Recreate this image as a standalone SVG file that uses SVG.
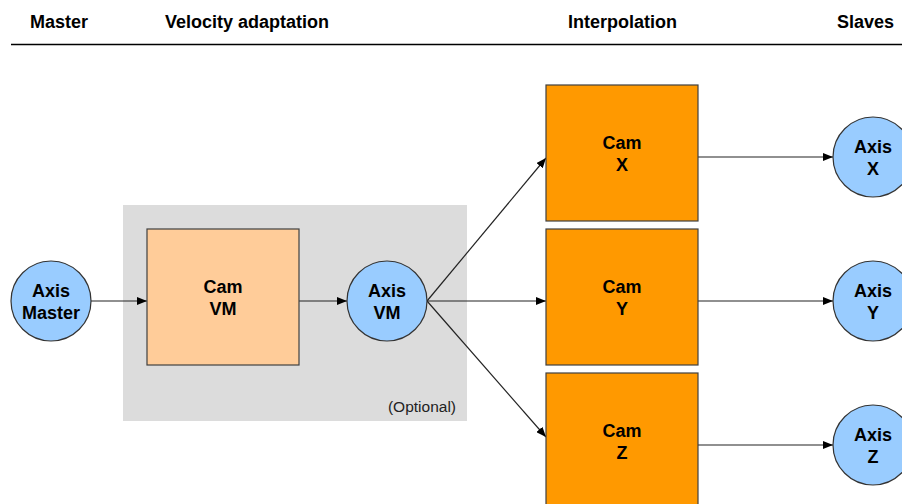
<svg xmlns="http://www.w3.org/2000/svg" width="902" height="504" viewBox="0 0 902 504">
  <style>
    .hdr { font-family: "Liberation Sans", Arial, sans-serif; font-size: 18px; font-weight: bold; fill: #000; }
    .lbl { font-family: "Liberation Sans", Arial, sans-serif; font-size: 18px; font-weight: bold; fill: #000; text-anchor: middle; }
    .note { font-family: "Liberation Sans", Arial, sans-serif; font-size: 15.5px; fill: #222; text-anchor: end; }
    .axis { fill: #99ccff; stroke: #333; stroke-width: 1.2; }
    .cam { fill: #ff9900; stroke: #404040; stroke-width: 1.2; }
    .camvm { fill: #ffcc99; stroke: #404040; stroke-width: 1.2; }
    .conn { stroke: #222; stroke-width: 1.2; fill: none; marker-end: url(#arrow); }
  </style>
  <defs>
    <marker id="arrow" viewBox="0 0 10 8" refX="10" refY="4" markerWidth="10" markerHeight="8" markerUnits="userSpaceOnUse" orient="auto">
      <path d="M0,0 L10,4 L0,8 Z" fill="#000"/>
    </marker>
  </defs>

  <rect width="902" height="504" fill="#fff"/>

  <!-- column headers -->
  <g id="headers">
    <text class="hdr" x="30" y="28">Master</text>
    <text class="hdr" x="165" y="28">Velocity adaptation</text>
    <text class="hdr" x="568" y="28">Interpolation</text>
    <text class="hdr" x="837" y="28">Slaves</text>
    <line x1="11" y1="44.5" x2="902" y2="44.5" stroke="#000" stroke-width="1.5"/>
  </g>

  <!-- optional velocity adaptation stage -->
  <g id="optional">
    <rect x="123" y="205" width="344" height="216" fill="#dcdcdc"/>
    <text class="note" x="456" y="412">(Optional)</text>
  </g>

  <g id="connectors">
    <line class="conn" x1="91" y1="301" x2="147" y2="301"/>
    <line class="conn" x1="299" y1="301" x2="347" y2="301"/>
    <line class="conn" x1="427" y1="301" x2="546" y2="158"/>
    <line class="conn" x1="427" y1="301" x2="546" y2="301"/>
    <line class="conn" x1="427" y1="301" x2="546" y2="437"/>
    <line class="conn" x1="698" y1="157" x2="833" y2="157"/>
    <line class="conn" x1="698" y1="301" x2="833" y2="301"/>
    <line class="conn" x1="698" y1="445" x2="833" y2="445"/>
  </g>

  <g id="axis-master">
    <circle class="axis" cx="51" cy="301" r="40"/>
    <text class="lbl" x="51" y="297">Axis</text>
    <text class="lbl" x="51" y="319">Master</text>
  </g>

  <g id="cam-vm">
    <rect class="camvm" x="147" y="229" width="152" height="136"/>
    <text class="lbl" x="223" y="293">Cam</text>
    <text class="lbl" x="223" y="315">VM</text>
  </g>

  <g id="axis-vm">
    <circle class="axis" cx="387" cy="301" r="40"/>
    <text class="lbl" x="387" y="297">Axis</text>
    <text class="lbl" x="387" y="319">VM</text>
  </g>

  <g id="cam-x">
    <rect class="cam" x="546" y="85" width="152" height="136"/>
    <text class="lbl" x="622" y="149">Cam</text>
    <text class="lbl" x="622" y="171">X</text>
  </g>

  <g id="cam-y">
    <rect class="cam" x="546" y="229" width="152" height="136"/>
    <text class="lbl" x="622" y="293">Cam</text>
    <text class="lbl" x="622" y="315">Y</text>
  </g>

  <g id="cam-z">
    <rect class="cam" x="546" y="373" width="152" height="136"/>
    <text class="lbl" x="622" y="437">Cam</text>
    <text class="lbl" x="622" y="459">Z</text>
  </g>

  <g id="axis-x">
    <circle class="axis" cx="873" cy="157" r="40"/>
    <text class="lbl" x="873" y="153">Axis</text>
    <text class="lbl" x="873" y="175">X</text>
  </g>

  <g id="axis-y">
    <circle class="axis" cx="873" cy="301" r="40"/>
    <text class="lbl" x="873" y="297">Axis</text>
    <text class="lbl" x="873" y="319">Y</text>
  </g>

  <g id="axis-z">
    <circle class="axis" cx="873" cy="445" r="40"/>
    <text class="lbl" x="873" y="441">Axis</text>
    <text class="lbl" x="873" y="463">Z</text>
  </g>
</svg>
